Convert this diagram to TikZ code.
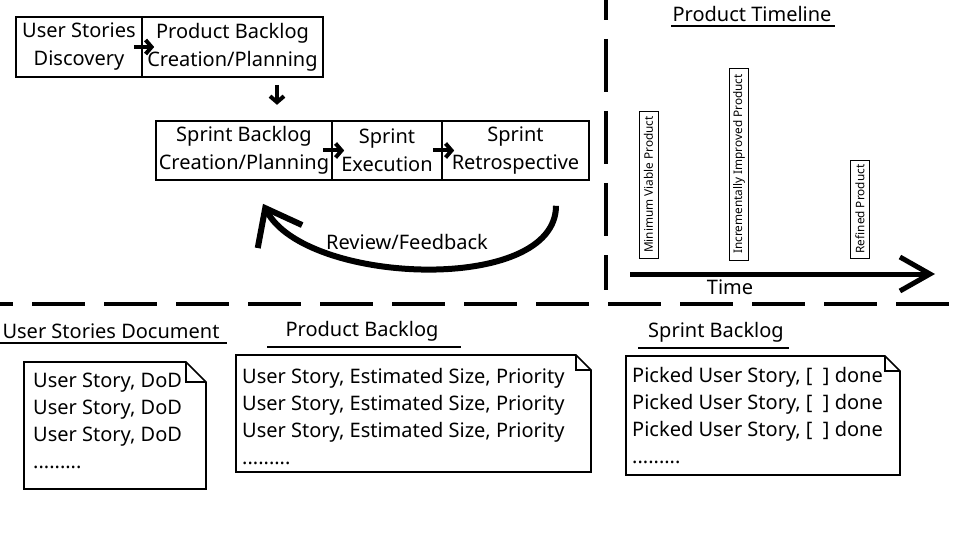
\documentclass[tikz,border=0pt]{standalone}
\usepackage{fontspec}
\setmainfont{Noto Sans}
\usetikzlibrary{arrows.meta}
\begin{document}
\begin{tikzpicture}[x=1pt,y=-1pt,
  txt/.style={font=\fontsize{20}{28}\selectfont,inner sep=0pt},
  proc/.style={draw,line width=1.6pt,align=center,inner sep=0pt,minimum height=60pt,font=\fontsize{20}{28}\selectfont},
  small/.style={line width=4pt,-{Straight Barb[length=6pt,width=14pt]}},
  bigarrow/.style={line width=6pt,-{Straight Barb[length=32pt,width=50pt]}},
  divider/.style={line width=4.5pt,dash pattern=on 53pt off 19pt},
  rot/.style={draw,line width=0.8pt,rotate=90,inner sep=0pt,minimum height=19pt,font=\fontsize{11.8}{14}\selectfont},
  uline/.style={line width=1.2pt},
  doc/.style={line width=1.6pt,line join=miter},
  line/.style={font=\fontsize{20}{27}\selectfont,inner sep=0pt,anchor=base west}
]
\useasboundingbox (0,0) rectangle (960,540);

% top process boxes
\node[proc,minimum width=126pt] (b1) at (79,47) {User Stories\\Discovery};
\node[proc,minimum width=181pt] (b2) at (232.5,47) {Product Backlog\\Creation/Planning};
\node[proc,minimum width=176pt,minimum height=59pt] (b3) at (244,150.5) {Sprint Backlog\\Creation/Planning};
\node[proc,minimum width=110pt,minimum height=59pt] (b4) at (387,150.5) {Sprint\\Execution};
\node[proc,minimum width=147pt,minimum height=59pt] (b5) at (515.5,150.5) {Sprint\\Retrospective};

\draw[small] ([xshift=-9pt]b1.east) -- ([xshift=13pt]b2.west);
\draw[small] ([xshift=44.5pt,yshift=-7pt]b2.south) -- ([xshift=44.5pt,yshift=-27pt]b2.south);
\draw[small] ([xshift=-10pt]b3.east) -- ([xshift=13pt]b4.west);
\draw[small] ([xshift=-10pt]b4.east) -- ([xshift=13pt]b5.west);

\draw[bigarrow] ([xshift=40.5pt,yshift=-25pt]b5.south) .. controls (556,295) and (305,285) .. ([xshift=19pt,yshift=-23pt]b3.south);
\node[txt] (rf) at (407,242) {Review/Feedback};

% dividers
\draw[divider,dash phase=33pt] (606,0) -- (606,290);
\draw[divider,dash phase=40pt] (0,304) -- (960,304);

% timeline
\node[txt] (pt) at (752,14) {Product Timeline};
\draw[uline] (671,26) -- (835,26);
\node[rot,minimum width=147pt] (mvp) at (648.5,184.5) {Minimum Viable Product};
\node[rot,minimum width=192pt] (iip) at (739,164) {Incrementally Improved Product};
\node[rot,minimum width=98pt] (rp) at (860,209) {Refined Product};
\coordinate (t0) at (630,274);
\coordinate (t1) at (935,274);
\draw[line width=5pt,-{Straight Barb[length=30pt,width=34pt]}] (t0) -- (t1);
\node[txt] (time) at (730,287) {Time};

% documents
\node[txt] (h1) at (111,331) {User Stories Document};
\draw[uline] (0,343) -- (227,343);
\node[txt] (h2) at (362,331) {Product Backlog};
\draw[uline] (267,347) -- (461,347);
\node[txt] (h3) at (716,332) {Sprint Backlog};
\draw[uline] (638,348) -- (789,348);

\draw[doc] (24,362) -- (186,362) -- (206,382) -- (206,489) -- (24,489) -- cycle;
\draw[doc] (186,362) -- (186,382) -- (206,382);
\draw[doc] (236,355) -- (576,355) -- (591,370) -- (591,472) -- (236,472) -- cycle;
\draw[doc] (576,355) -- (576,370) -- (591,370);
\draw[doc] (626,356) -- (885,356) -- (900,371) -- (900,475) -- (626,475) -- cycle;
\draw[doc] (885,356) -- (885,371) -- (900,371);

\foreach \i in {0,1,2} {
  \node[line] (da\i) at (33,387+27*\i) {User Story, DoD};
  \node[line] (db\i) at (242,383+27*\i) {User Story, Estimated Size, Priority};
  \node[line] (dc\i) at (632,382+27*\i) {Picked User Story, [\ \ ] done};
}
\node[line] (da3) at (33,468) {.........};
\node[line] (db3) at (242,464) {.........};
\node[line] (dc3) at (632,463) {.........};
\end{tikzpicture}
\end{document}
